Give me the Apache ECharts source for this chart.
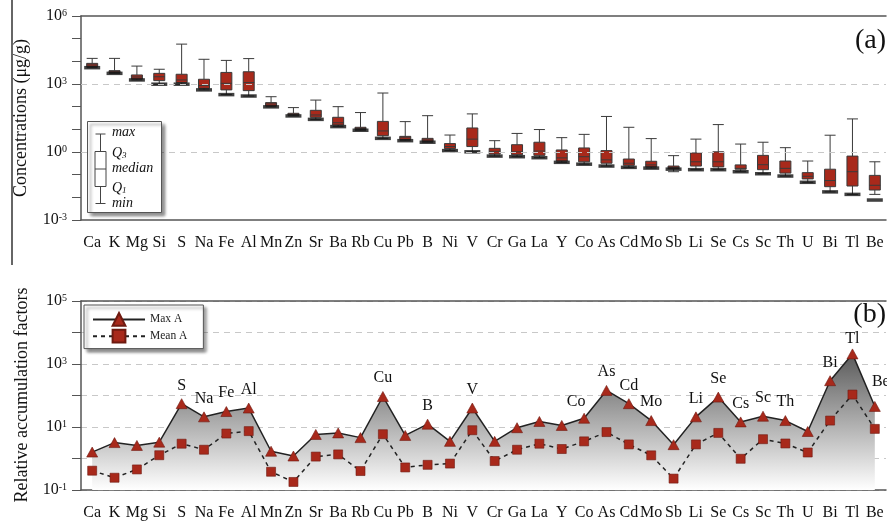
<!DOCTYPE html>
<html>
<head>
<meta charset="utf-8">
<script src="https://cdn.jsdelivr.net/npm/echarts@6/dist/echarts.min.js"></script>
<style>html,body{margin:0;padding:0;background:#fff}#c{width:887px;height:526px}</style>
</head>
<body>
<div id="c"></div>
<script>
// ---------- DATA ----------
const elements = ['Ca','K','Mg','Si','S','Na','Fe','Al','Mn','Zn','Sr','Ba','Rb','Cu','Pb','B','Ni','V','Cr','Ga','La','Y','Co','As','Cd','Mo','Sb','Li','Se','Cs','Sc','Th','U','Bi','Tl','Be'];
// Panel (a) concentrations, µg/g
const concMax    = [13500,13500,6170,4470,57500,12300,11000,13200,275,91,195,100,55,400,21.9,40,5.6,48,3.16,6.6,9.8,4.3,6.0,37,12.3,3.9,0.69,3.7,16.2,2.24,2.7,1.55,0.40,5.5,28.8,0.37];
const concQ3     = [8130,3890,2510,2950,2690,1620,3240,3470,151,51,69,34,12.3,22.4,4.9,4.0,2.35,11.5,1.45,2.1,2.7,1.23,1.51,1.15,0.49,0.39,0.24,0.91,1.02,0.27,0.71,0.40,0.123,0.174,0.66,0.093];
const concMedian = [6920,3470,2040,2090,1510,850,1070,1150,132,46,43,19.5,11,8.5,4.5,3.4,1.74,3.7,1.07,1.02,1.1,0.55,0.62,0.45,0.32,0.27,0.21,0.37,0.37,0.19,0.275,0.19,0.085,0.055,0.135,0.034];
const concQ1     = [5750,3160,1660,1410,1150,645,550,510,107,42,34,15.5,9.8,5.25,3.6,2.95,1.41,1.74,0.81,0.76,0.71,0.40,0.37,0.32,0.26,0.22,0.18,0.24,0.22,0.174,0.166,0.117,0.065,0.0295,0.0316,0.021];
const concLow    = [5250,2950,1510,980,980,550,340,295,98,39,27.5,13.2,9.1,4.0,3.16,2.7,1.15,1.02,0.66,0.62,0.56,0.35,0.29,0.24,0.21,0.195,0.135,0.166,0.166,0.135,0.11,0.087,0.046,0.0174,0.0135,0.0135];
const concMin    = [5250,2950,1510,980,980,550,340,295,98,39,27.5,13.2,9.1,4.0,3.16,2.7,1.15,1.02,0.66,0.62,0.56,0.35,0.29,0.24,0.21,0.195,0.175,0.166,0.166,0.135,0.11,0.087,0.046,0.0174,0.0135,0.0076];
// Panel (b) relative accumulation factors
const maxA  = [1.6,3.2,2.6,3.3,55,21,31,40,1.7,1.2,5.8,6.5,4.6,93,5.4,12.3,3.5,40,3.5,9.5,15,11.2,19,145,55,16,2.75,21,89,14.5,22,16,7.2,295,2090,45];
const meanA = [0.41,0.245,0.45,1.27,2.95,1.9,6.2,7.4,0.38,0.18,1.15,1.35,0.4,5.9,0.52,0.63,0.69,7.9,0.83,1.9,2.95,2.0,3.5,6.9,2.8,1.26,0.23,2.8,6.5,0.98,4.1,3.0,1.55,16,107,8.7];
const labelledB = ['S','Na','Fe','Al','Cu','B','V','Co','As','Cd','Mo','Li','Se','Cs','Sc','Th','Bi','Tl','Be'];
const yTicksA = [3, 0, -3, 6];   // labelled exponents (multiples of 3)
const yTicksB = [5, 3, 1, -1];   // labelled exponents (odd)

// ---------- CHART ----------
const FF = '"Liberation Serif", "Times New Roman", serif';
const RED = '#a8291b';
const AX = '#555';
const chart = echarts.init(document.getElementById('c'), null, {renderer: 'canvas'});

const boxData = elements.map((e, i) => [concLow[i], concQ1[i], concMedian[i], concQ3[i], concMax[i]]);

// label nudges for a few crowded peak labels (styling only)
const labelNudge = {Co: [-8, 2], Be: [6, -6], Tl: [0, 3]};
const maxAItems = maxA.map((v, i) => {
  const n = labelNudge[elements[i]];
  return n ? {value: v, label: {offset: n}} : v;
});

function supLabel(allowed) {
  return function (v) {
    const e = Math.round(Math.log10(v));
    return allowed.indexOf(e) >= 0 ? '{b|10}{s|' + e + '}' : '';
  };
}
const supRich = {
  b: {fontSize: 16, fontFamily: FF, color: '#111'},
  s: {fontSize: 10, fontFamily: FF, color: '#111', verticalAlign: 'top'}
};

const xAxisCommon = {
  type: 'category', data: elements, boundaryGap: true,
  axisLine: {lineStyle: {color: AX, width: 1.5}},
  axisTick: {alignWithLabel: true, length: 8, lineStyle: {color: AX, width: 1}},
  axisLabel: {interval: 0, fontSize: 16, fontFamily: FF, color: '#111', margin: 15},
  splitLine: {show: false}
};
const topFrame = gi => ({
  type: 'category', data: elements, gridIndex: gi, position: 'top',
  axisLine: {lineStyle: {color: AX, width: 1.5}}, axisTick: {show: false}, axisLabel: {show: false}, splitLine: {show: false}
});

const option = {
  animation: false,
  backgroundColor: '#fff',
  grid: [
    {left: 81, right: 1, top: 16, height: 204},
    {left: 81, right: 1, top: 301, height: 189}
  ],
  xAxis: [
    Object.assign({gridIndex: 0}, xAxisCommon),
    Object.assign({gridIndex: 1}, xAxisCommon),
    topFrame(0), topFrame(1)
  ],
  yAxis: [
    {
      type: 'log', logBase: 10, gridIndex: 0, min: 0.001, max: 1000000,
      axisLine: {show: true, lineStyle: {color: AX, width: 1.5}},
      axisTick: {show: true, length: 9, lineStyle: {color: AX}},
      axisLabel: {formatter: supLabel(yTicksA), rich: supRich, margin: 14},
      splitLine: {show: false}
    },
    {
      type: 'log', logBase: 10, gridIndex: 1, min: 0.1, max: 100000,
      axisLine: {show: true, lineStyle: {color: AX, width: 1.5}},
      axisTick: {show: true, length: 9, lineStyle: {color: AX}},
      axisLabel: {formatter: supLabel(yTicksB), rich: supRich, margin: 14},
      splitLine: {show: true, lineStyle: {type: [6, 5], color: '#c8c8c8', width: 1}}
    }
  ],
  legend: {
    data: ['Max A', 'Mean A'],
    orient: 'vertical', left: 84, top: 305,
    itemWidth: 52, itemHeight: 16, itemGap: 2,
    padding: [7, 16, 5, 8],
    textStyle: {fontSize: 11.5, fontFamily: FF, color: '#222'},
    backgroundColor: '#fff', borderColor: '#555', borderWidth: 1,
    shadowBlur: 3, shadowOffsetX: 3, shadowOffsetY: 3, shadowColor: 'rgba(0,0,0,0.45)'
  },
  series: [
    {
      name: 'Concentrations', type: 'boxplot', xAxisIndex: 0, yAxisIndex: 0,
      data: boxData, boxWidth: [11, 11],
      itemStyle: {color: RED, borderColor: '#3a3a3a', borderWidth: 1},
      markLine: {
        silent: true, symbol: ['none', 'none'], label: {show: false},
        lineStyle: {type: [6, 5], color: '#c8c8c8', width: 1},
        data: [{yAxis: 1000}, {yAxis: 1}]
      },
      z: 3
    },
    {
      name: 'min', type: 'scatter', xAxisIndex: 0, yAxisIndex: 0,
      data: concMin, symbol: 'rect', symbolSize: [16, 3.5],
      itemStyle: {color: '#111'}, z: 4
    },
    {
      name: 'Max A', type: 'line', xAxisIndex: 1, yAxisIndex: 1,
      data: maxAItems, symbol: 'triangle', symbolSize: [11, 10],
      itemStyle: {color: RED, borderColor: '#6e1a10', borderWidth: 0.6},
      lineStyle: {color: '#222', width: 1.5},
      areaStyle: {
        origin: 'start', opacity: 1,
        color: new echarts.graphic.LinearGradient(0, 0, 0, 1, [
          {offset: 0, color: '#5a5a5a'}, {offset: 1, color: '#ffffff'}
        ])
      },
      label: {
        show: true, position: 'top', distance: 5,
        fontSize: 16, fontFamily: FF, color: '#111',
        formatter: p => labelledB.indexOf(elements[p.dataIndex]) >= 0 ? elements[p.dataIndex] : ''
      },
      z: 3
    },
    {
      name: 'Mean A', type: 'line', xAxisIndex: 1, yAxisIndex: 1,
      data: meanA, symbol: 'rect', symbolSize: 9,
      itemStyle: {color: RED, borderColor: '#6e1a10', borderWidth: 0.6},
      lineStyle: {color: '#222', width: 1.5, type: [4, 4]},
      z: 4
    }
  ],
  graphic: [
    {type: 'line', shape: {x1: 12, y1: 0, x2: 12, y2: 265}, style: {stroke: '#333', lineWidth: 1.5}, z: 10},
    {type: 'text', x: 21, y: 118, rotation: Math.PI / 2,
     style: {text: 'Concentrations (μg/g)', font: '18px ' + FF, fill: '#111', align: 'center', verticalAlign: 'middle'}, z: 10},
    {type: 'text', x: 22, y: 395, rotation: Math.PI / 2,
     style: {text: 'Relative accumulation factors', font: '18px ' + FF, fill: '#111', align: 'center', verticalAlign: 'middle'}, z: 10},
    {type: 'text', x: 886, y: 41, style: {text: '(a)', font: '28px ' + FF, fill: '#111', align: 'right', verticalAlign: 'middle'}, z: 10},
    {type: 'text', x: 886, y: 315, style: {text: '(b)', font: '28px ' + FF, fill: '#111', align: 'right', verticalAlign: 'middle'}, z: 10},
    // boxplot key
    {type: 'rect', shape: {x: 87.5, y: 121.5, width: 74, height: 91},
     style: {fill: '#fff', stroke: '#555', lineWidth: 1, shadowBlur: 3, shadowOffsetX: 3, shadowOffsetY: 3, shadowColor: 'rgba(0,0,0,0.45)'}, z: 20},
    {type: 'line', shape: {x1: 100.5, y1: 134, x2: 100.5, y2: 151.5}, style: {stroke: '#444', lineWidth: 1}, z: 21},
    {type: 'line', shape: {x1: 95.5, y1: 134, x2: 105.5, y2: 134}, style: {stroke: '#444', lineWidth: 1}, z: 21},
    {type: 'rect', shape: {x: 95, y: 151.5, width: 11, height: 35}, style: {fill: '#fff', stroke: '#444', lineWidth: 1}, z: 21},
    {type: 'line', shape: {x1: 95, y1: 169, x2: 106, y2: 169}, style: {stroke: '#444', lineWidth: 1}, z: 21},
    {type: 'line', shape: {x1: 100.5, y1: 186.5, x2: 100.5, y2: 203.5}, style: {stroke: '#444', lineWidth: 1}, z: 21},
    {type: 'line', shape: {x1: 95.5, y1: 203.5, x2: 105.5, y2: 203.5}, style: {stroke: '#444', lineWidth: 1}, z: 21},
    {type: 'text', x: 112, y: 132.5, style: {text: 'max', font: 'italic 14px ' + FF, fill: '#111', verticalAlign: 'middle'}, z: 21},
    {type: 'text', x: 112, y: 153, style: {text: '{q|Q}{s|3}', rich: {q: {font: 'italic 14px ' + FF, fill: '#111'}, s: {font: 'italic 9px ' + FF, fill: '#111', verticalAlign: 'bottom'}}, verticalAlign: 'middle'}, z: 21},
    {type: 'text', x: 112, y: 168, style: {text: 'median', font: 'italic 14px ' + FF, fill: '#111', verticalAlign: 'middle'}, z: 21},
    {type: 'text', x: 112, y: 188, style: {text: '{q|Q}{s|1}', rich: {q: {font: 'italic 14px ' + FF, fill: '#111'}, s: {font: 'italic 9px ' + FF, fill: '#111', verticalAlign: 'bottom'}}, verticalAlign: 'middle'}, z: 21},
    {type: 'text', x: 112, y: 203, style: {text: 'min', font: 'italic 14px ' + FF, fill: '#111', verticalAlign: 'middle'}, z: 21}
  ]
};
chart.setOption(option);
</script>
</body>
</html>
